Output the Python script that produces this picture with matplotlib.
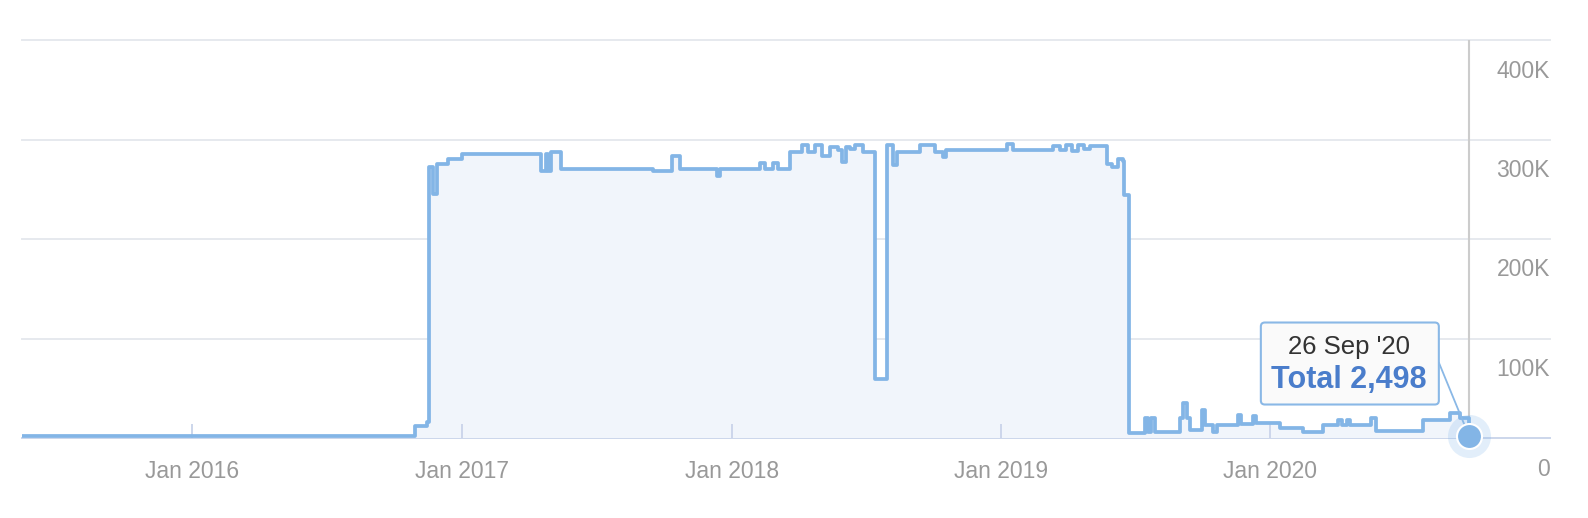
import matplotlib
matplotlib.use("Agg")
import matplotlib.pyplot as plt
import matplotlib.dates as mdates
import numpy as np
import pandas as pd
from matplotlib.patches import FancyBboxPatch
from matplotlib.transforms import IdentityTransform

plt.rcParams['font.family'] = ['Liberation Sans', 'DejaVu Sans']

# series (values in thousands)
dates = [
    '2015-05-15', '2016-10-28', '2016-11-14', '2016-11-16', '2016-11-22', '2016-11-28',
    '2016-12-12', '2017-01-01', '2017-04-17', '2017-04-24', '2017-04-27', '2017-05-01',
    '2017-05-14', '2017-09-16', '2017-10-12', '2017-10-23', '2017-12-12', '2017-12-16',
    '2018-02-08', '2018-02-15', '2018-02-26', '2018-03-05', '2018-03-21', '2018-04-06',
    '2018-04-14', '2018-04-24', '2018-05-03', '2018-05-14', '2018-05-25', '2018-05-30',
    '2018-06-05', '2018-06-10', '2018-06-17', '2018-06-28', '2018-07-14', '2018-07-30',
    '2018-08-07', '2018-08-13', '2018-09-13', '2018-10-03', '2018-10-14', '2018-10-18',
    '2019-01-09', '2019-01-17', '2019-03-12', '2019-03-22', '2019-03-30', '2019-04-07',
    '2019-04-15', '2019-04-23', '2019-05-01', '2019-05-24', '2019-05-31', '2019-06-08',
    '2019-06-15', '2019-06-16', '2019-06-23', '2019-07-15', '2019-07-19', '2019-07-23',
    '2019-07-28', '2019-08-31', '2019-09-04', '2019-09-10', '2019-09-14', '2019-10-01',
    '2019-10-05', '2019-10-15', '2019-10-20', '2019-11-18', '2019-11-22', '2019-12-08',
    '2019-12-12', '2020-01-14', '2020-02-14', '2020-03-12', '2020-04-02', '2020-04-07',
    '2020-04-14', '2020-04-18', '2020-05-17', '2020-05-23', '2020-07-26', '2020-08-31',
    '2020-09-14', '2020-09-26',
]
values_k = [
    2, 12, 16, 272, 245, 275,
    280, 285, 268, 285, 268, 287,
    270, 268, 283, 270, 263, 270,
    276, 270, 276, 270, 287, 294,
    287, 294, 283, 292, 289, 277,
    292, 290, 294, 287, 59, 294,
    274, 287, 294, 287, 282, 289,
    295, 289, 293, 289, 294, 288,
    294, 290, 293, 275, 272, 280,
    278, 244, 5, 20, 6, 20,
    6, 20, 35, 20, 8, 28,
    13, 6, 13, 23, 14, 22,
    15, 10, 6, 13, 18, 13,
    18, 13, 20, 7, 18, 25,
    20, 2.498,
]

hover_date = '2020-09-26'
hover_value = 2498

x_ticks = ['2016-01-01', '2017-01-01', '2018-01-01', '2019-01-01', '2020-01-01']
x_labels = ['Jan 2016', 'Jan 2017', 'Jan 2018', 'Jan 2019', 'Jan 2020']
y_ticks = [0, 100000, 200000, 300000, 400000]
y_labels = ['0', '100K', '200K', '300K', '400K']

line_col = '#83b5e6'
grey = '#999999'

fig = plt.figure(figsize=(15.88, 5.18), dpi=100, facecolor='white')
ax = fig.add_axes([22 / 1588, 80 / 518, 1528 / 1588, 398 / 518])

x = pd.to_datetime(dates)
y = np.array(values_k) * 1000

ax.set_xlim(pd.Timestamp('2015-05-15'), pd.Timestamp('2021-01-14'))
ax.set_ylim(0, 400000)

# gridlines + baseline
for v in y_ticks[1:]:
    ax.axhline(v, color='#e6e9ee', lw=1.4, zorder=0, clip_on=False)
ax.axhline(0, color='#ccd6eb', lw=1.4, zorder=1, clip_on=False)

ax.fill_between(x, y, step='post', color='#f1f5fb', lw=0, zorder=1)
ax.plot(x, y, drawstyle='steps-post', color=line_col, lw=2.7, zorder=3,
        solid_joinstyle='round', solid_capstyle='round')

for s in ax.spines.values():
    s.set_visible(False)

ax.set_xticks(pd.to_datetime(x_ticks))
ax.set_xticklabels(x_labels)
ax.tick_params(axis='x', direction='in', length=10, width=1.4, color='#ccd6eb',
               labelcolor=grey, labelsize=16.5, pad=15.5)
ax.set_yticks([])

# y labels sit under their gridline, right aligned
for v, lab in zip(y_ticks, y_labels):
    ax.annotate(lab, xy=(1, v), xycoords=('axes fraction', 'data'),
                xytext=(0, -31), textcoords='offset pixels',
                ha='right', va='center', color=grey, fontsize=16.5,
                annotation_clip=False)

# hover crosshair and point
hx = pd.Timestamp(hover_date)
ax.axvline(hx, color='#cccccc', lw=1.5, zorder=2)
ax.plot(hx, hover_value, 'o', ms=31, color='#7cb5ec', alpha=0.22, mew=0,
        clip_on=False, zorder=4)
ax.plot(hx, hover_value, 'o', ms=18, mfc=line_col, mec='white', mew=1.5,
        clip_on=False, zorder=5)

# tooltip
px, py = ax.transData.transform((mdates.date2num(hx), hover_value))
box = FancyBboxPatch((px - 208, py + 31), 178, 82,
                     boxstyle='round,pad=0,rounding_size=4',
                     transform=IdentityTransform(), fc='#fafafa', ec='#8ab8e6',
                     lw=1.5, zorder=6, clip_on=False)
ax.add_patch(box)
ax.annotate('', xy=(hx, hover_value), xytext=(-30, 73), textcoords='offset pixels',
            arrowprops=dict(arrowstyle='-', color='#8ab8e6', lw=1.3,
                            shrinkA=0, shrinkB=0), zorder=4)
ax.annotate(hx.strftime("%d %b '%y"), xy=(hx, hover_value), xytext=(-120, 89),
            textcoords='offset pixels', ha='center', va='center',
            fontsize=18.5, color='#333333', zorder=7)
ax.annotate(f"Total {hover_value:,}", xy=(hx, hover_value), xytext=(-120, 56),
            textcoords='offset pixels', ha='center', va='center',
            fontsize=22, fontweight='bold', color='#4a7dcb', zorder=7)

fig.savefig('out.png', dpi=100)
